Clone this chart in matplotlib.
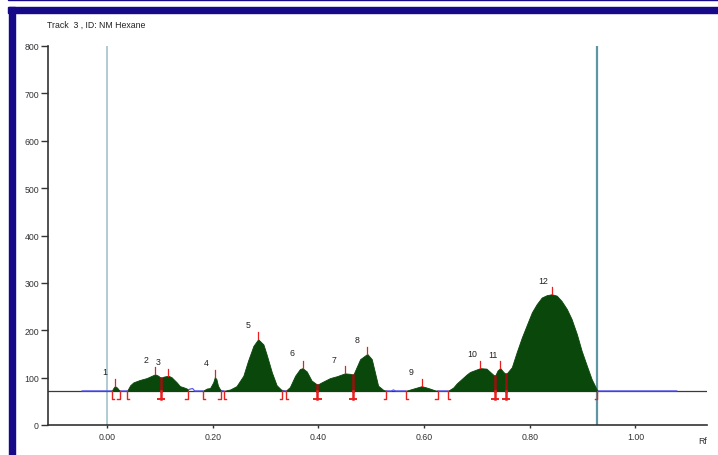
import numpy as np
import matplotlib.pyplot as plt
from matplotlib.patches import Rectangle

plt.rcParams["font.family"] = ["Liberation Sans", "DejaVu Sans"]

####################### DATA #######################
# densitogram trace, Rf vs signal (AU)
rf = [-0.047, 0.009, 0.012, 0.015, 0.019, 0.024, 0.038, 0.044, 0.050, 0.062,
      0.075, 0.085, 0.091, 0.097, 0.102, 0.107, 0.116, 0.122, 0.132, 0.138,
      0.144, 0.151, 0.153, 0.158, 0.162, 0.166, 0.181, 0.189, 0.195, 0.201,
      0.204, 0.207, 0.210, 0.215, 0.221, 0.233, 0.245, 0.258, 0.267, 0.277,
      0.286, 0.296, 0.302, 0.312, 0.321, 0.331, 0.338, 0.346, 0.356, 0.365,
      0.370, 0.378, 0.387, 0.398, 0.406, 0.422, 0.435, 0.450, 0.460, 0.466,
      0.479, 0.4925, 0.501, 0.507, 0.513, 0.523, 0.528, 0.538, 0.542, 0.546,
      0.565, 0.580, 0.5955, 0.608, 0.621, 0.626, 0.635, 0.645, 0.655, 0.662,
      0.671, 0.681, 0.687, 0.706, 0.718, 0.727, 0.734, 0.739, 0.744, 0.750,
      0.755, 0.766, 0.775, 0.785, 0.795, 0.804, 0.813, 0.8225, 0.832, 0.8415,
      0.851, 0.860, 0.870, 0.879, 0.889, 0.898, 0.908, 0.917, 0.928, 1.078]
signal = [72, 72, 78, 82, 79, 72, 72, 84, 90, 95,
          99, 104, 107, 104, 99, 102, 104, 101, 90, 82,
          80, 77, 74, 76, 77, 72, 72, 77, 78, 90,
          101, 97, 83, 73, 72, 75, 82, 104, 136, 167,
          181, 170, 149, 111, 84, 73, 72, 80, 104, 118,
          120, 113, 94, 85, 90, 99, 103, 109, 108, 106,
          139, 150, 139, 111, 83, 74, 72, 72, 74, 72,
          72, 77, 82, 78, 73, 72, 72, 72, 79, 88,
          97, 107, 112, 120, 119, 110, 103, 115, 120, 112,
          107, 122, 153, 185, 213, 238, 255, 269, 274, 276,
          273, 262, 245, 224, 192, 157, 125, 97, 72, 72]
baseline = 72

# peaks
peak_ids = ["1", "2", "3", "4", "5", "6", "7", "8", "9", "10", "11", "12"]
peak_rf = [0.015, 0.091, 0.116, 0.204, 0.286, 0.370, 0.450, 0.4925, 0.5955, 0.706, 0.744, 0.8415]
peak_height = [82, 107, 104, 101, 181, 120, 109, 150, 82, 120, 120, 276]
label_rf = [-0.004, 0.073, 0.097, 0.187, 0.267, 0.351, 0.430, 0.4725, 0.5746, 0.691, 0.730, 0.8256]
label_y = [112, 138, 135, 132, 212, 153, 139, 181, 113, 150, 148, 306]

# integration limits
start_rf = [0.009, 0.038, 0.181, 0.221, 0.338, 0.565, 0.645]
end_rf = [0.024, 0.153, 0.215, 0.331, 0.528, 0.626, 0.928]
split_rf = [0.102, 0.398, 0.466, 0.734, 0.755]

x_ticks = [0.0, 0.2, 0.4, 0.6, 0.8, 1.0]
y_ticks = [0, 100, 200, 300, 400, 500, 600, 700, 800]

####################### PLOT #######################
fig = plt.figure(figsize=(7.18, 4.56), dpi=100)
ax = fig.add_axes([48 / 718, 30 / 456, 659 / 718, 379 / 456])

navy = "#160a88"
green = "#0a470a"
red = "#e82020"

rf_arr = np.array(rf)
sig_arr = np.array(signal, dtype=float)

# raw trace only shows between the integrated areas
raw = sig_arr.copy()
for a, b in zip(start_rf, end_rf):
    raw[(rf_arr > a + 1e-9) & (rf_arr < b - 1e-9)] = np.nan

ax.axhline(baseline, color="#3a3a3a", lw=0.9, zorder=1)
ax.plot(rf_arr, raw, color="#5a5af0", lw=0.9, zorder=2)

for a, b in zip(start_rf, end_rf):
    m = (rf_arr >= a - 1e-9) & (rf_arr <= b + 1e-9)
    ax.fill_between(rf_arr[m], baseline, sig_arr[m], facecolor=green,
                    edgecolor=green, lw=0.6, zorder=3)

# start / end window lines
ax.vlines(0.0, 0, 800, color="#a9c8d0", lw=1.3, zorder=0)
ax.vlines(0.928, 0, 800, color="#5e96a4", lw=1.6, zorder=0)

# peak top ticks and numbers
for x, h in zip(peak_rf, peak_height):
    ax.plot([x, x], [h, h + 15], color=red, lw=0.9, zorder=4)
for pid, lx, ly in zip(peak_ids, label_rf, label_y):
    ax.text(lx, ly, pid, fontsize=6.3, ha="center", va="center", color="#222222")

# brackets below baseline
low = baseline - 17
w = 0.0045
for x in start_rf:
    ax.plot([x + w, x, x], [low, low, baseline], color=red, lw=1.0, zorder=4)
for x in end_rf:
    ax.plot([x - w, x, x], [low, low, baseline], color=red, lw=1.0, zorder=4)
for x in split_rf:
    top = np.interp(x, rf_arr, sig_arr)
    ax.plot([x, x], [baseline, top], color="#9a1010", lw=1.8, zorder=4)
    ax.plot([x, x], [low, baseline], color=red, lw=1.8, zorder=4)
    ax.plot([x - 0.006, x + 0.006], [low, low], color=red, lw=1.4, zorder=4)

ax.set_xlim(-0.1116, 1.1353)
ax.set_ylim(0, 800)
ax.set_xticks(x_ticks)
ax.set_xticklabels([f"{t:.2f}" for t in x_ticks])
ax.set_yticks(y_ticks)
ax.tick_params(axis="y", length=5, width=1, pad=1.5, labelsize=6.3, colors="#333333")
ax.tick_params(axis="x", length=2.5, width=1, pad=2.5, labelsize=6.3, colors="#333333")
for s in ["top", "right"]:
    ax.spines[s].set_visible(False)
for s in ["left", "bottom"]:
    ax.spines[s].set_color("#333333")
    ax.spines[s].set_linewidth(1.2)

ax.text(0.994, -0.042, "Rf", transform=ax.transAxes, fontsize=6.3,
        ha="center", va="center", color="#333333")

fig.text(47 / 718, 1 - 25 / 456, "Track  3 , ID: NM Hexane", fontsize=6.3,
         ha="left", va="center", color="#222222")

# navy frame
fig.patches.append(Rectangle((8 / 718, 455 / 456), 1, 1 / 456, transform=fig.transFigure,
                             color=navy, zorder=10))
fig.patches.append(Rectangle((8 / 718, 442 / 456), 1, 6 / 456, transform=fig.transFigure,
                             color=navy, zorder=10))
fig.patches.append(Rectangle((9 / 718, 0), 6 / 718, 448 / 456, transform=fig.transFigure,
                             color=navy, zorder=10))

plt.savefig("out.png", dpi=100)
